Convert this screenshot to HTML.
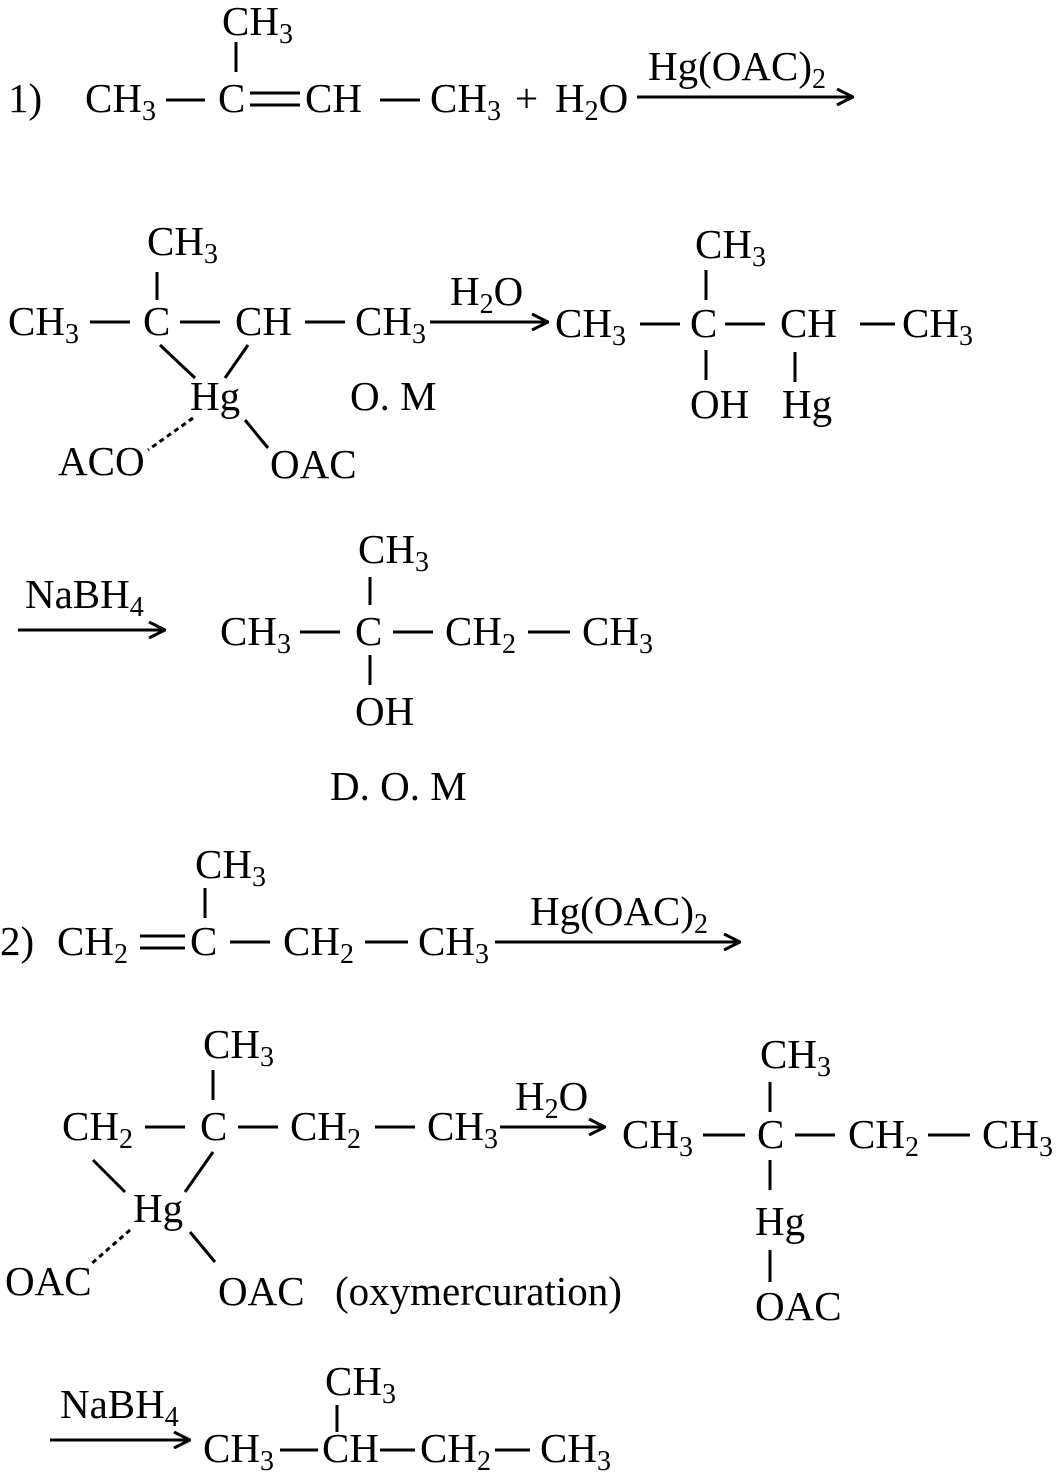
<!DOCTYPE html>
<html><head><meta charset="utf-8"><style>
html,body{margin:0;padding:0;background:#fff;}
svg{display:block;}
text{font-family:"Liberation Serif",serif;font-size:41px;fill:#000;}
.s{font-size:28px;}
line{stroke:#000;stroke-width:3;}
</style></head><body>
<svg width="1056" height="1476" viewBox="0 0 1056 1476" xmlns="http://www.w3.org/2000/svg">
<defs><marker id="a" markerWidth="18" markerHeight="18" refX="17" refY="9" orient="auto" markerUnits="userSpaceOnUse"><path d="M1,1 L17,9 L1,17" fill="none" stroke="#000" stroke-width="3"/></marker></defs>

<!-- Row 1 -->
<text x="8" y="112">1)</text>
<text x="85" y="112">CH<tspan class="s" dy="8">3</tspan></text>
<line x1="166" y1="100" x2="205" y2="100"/>
<text x="218" y="112">C</text>
<line x1="250" y1="93" x2="300" y2="93"/><line x1="250" y1="105" x2="300" y2="105"/>
<text x="305" y="112">CH</text>
<line x1="380" y1="100" x2="420" y2="100"/>
<text x="430" y="112">CH<tspan class="s" dy="8">3</tspan></text>
<text x="515" y="112">+</text>
<text x="555" y="112">H<tspan class="s" dy="8">2</tspan><tspan dy="-8">O</tspan></text>
<line x1="637" y1="97" x2="853" y2="97" marker-end="url(#a)"/>
<text x="648" y="80">Hg(OAC)<tspan class="s" dy="8">2</tspan></text>
<text x="222" y="35">CH<tspan class="s" dy="8">3</tspan></text>
<line x1="236" y1="42" x2="236" y2="72"/>

<!-- Row 2 -->
<text x="8" y="335">CH<tspan class="s" dy="8">3</tspan></text>
<line x1="90" y1="322" x2="130" y2="322"/>
<text x="143" y="335">C</text>
<line x1="180" y1="322" x2="220" y2="322"/>
<text x="235" y="335">CH</text>
<line x1="305" y1="322" x2="345" y2="322"/>
<text x="355" y="335">CH<tspan class="s" dy="8">3</tspan></text>
<line x1="430" y1="322" x2="548" y2="322" marker-end="url(#a)"/>
<text x="450" y="305">H<tspan class="s" dy="8">2</tspan><tspan dy="-8">O</tspan></text>
<text x="147" y="255">CH<tspan class="s" dy="8">3</tspan></text>
<line x1="157" y1="272" x2="157" y2="300"/>
<text x="190" y="410">Hg</text>
<line x1="160" y1="345" x2="195" y2="378"/>
<line x1="248" y1="345" x2="225" y2="378"/>
<line x1="193" y1="418" x2="148" y2="450" stroke-dasharray="5,4"/>
<text x="58" y="475">ACO</text>
<line x1="245" y1="420" x2="268" y2="448"/>
<text x="270" y="478">OAC</text>
<text x="350" y="410">O. M</text>
<text x="555" y="337">CH<tspan class="s" dy="8">3</tspan></text>
<line x1="640" y1="324" x2="680" y2="324"/>
<text x="690" y="337">C</text>
<line x1="725" y1="324" x2="765" y2="324"/>
<text x="780" y="337">CH</text>
<line x1="860" y1="324" x2="895" y2="324"/>
<text x="902" y="337">CH<tspan class="s" dy="8">3</tspan></text>
<text x="695" y="258">CH<tspan class="s" dy="8">3</tspan></text>
<line x1="706" y1="270" x2="706" y2="300"/>
<line x1="706" y1="350" x2="706" y2="380"/>
<text x="690" y="418">OH</text>
<line x1="795" y1="352" x2="795" y2="382"/>
<text x="782" y="418">Hg</text>

<!-- Row 3 -->
<text x="25" y="608">NaBH<tspan class="s" dy="8">4</tspan></text>
<line x1="18" y1="630" x2="165" y2="630" marker-end="url(#a)"/>
<text x="220" y="645">CH<tspan class="s" dy="8">3</tspan></text>
<line x1="300" y1="632" x2="340" y2="632"/>
<text x="355" y="645">C</text>
<line x1="393" y1="632" x2="433" y2="632"/>
<text x="445" y="645">CH<tspan class="s" dy="8">2</tspan></text>
<line x1="528" y1="632" x2="570" y2="632"/>
<text x="582" y="645">CH<tspan class="s" dy="8">3</tspan></text>
<text x="358" y="563">CH<tspan class="s" dy="8">3</tspan></text>
<line x1="370" y1="577" x2="370" y2="605"/>
<line x1="370" y1="655" x2="370" y2="685"/>
<text x="355" y="725">OH</text>
<text x="330" y="800">D. O. M</text>

<!-- Row 4 -->
<text x="0" y="955">2)</text>
<text x="57" y="955">CH<tspan class="s" dy="8">2</tspan></text>
<line x1="140" y1="936" x2="185" y2="936"/><line x1="140" y1="948" x2="185" y2="948"/>
<text x="190" y="955">C</text>
<line x1="230" y1="942" x2="270" y2="942"/>
<text x="283" y="955">CH<tspan class="s" dy="8">2</tspan></text>
<line x1="365" y1="942" x2="408" y2="942"/>
<text x="418" y="955">CH<tspan class="s" dy="8">3</tspan></text>
<line x1="495" y1="942" x2="740" y2="942" marker-end="url(#a)"/>
<text x="530" y="925">Hg(OAC)<tspan class="s" dy="8">2</tspan></text>
<text x="195" y="878">CH<tspan class="s" dy="8">3</tspan></text>
<line x1="205" y1="888" x2="205" y2="918"/>

<!-- Row 5 -->
<text x="62" y="1140">CH<tspan class="s" dy="8">2</tspan></text>
<line x1="145" y1="1127" x2="185" y2="1127"/>
<text x="200" y="1140">C</text>
<line x1="238" y1="1127" x2="278" y2="1127"/>
<text x="290" y="1140">CH<tspan class="s" dy="8">2</tspan></text>
<line x1="375" y1="1127" x2="415" y2="1127"/>
<text x="427" y="1140">CH<tspan class="s" dy="8">3</tspan></text>
<line x1="500" y1="1127" x2="605" y2="1127" marker-end="url(#a)"/>
<text x="515" y="1110">H<tspan class="s" dy="8">2</tspan><tspan dy="-8">O</tspan></text>
<text x="203" y="1058">CH<tspan class="s" dy="8">3</tspan></text>
<line x1="213" y1="1070" x2="213" y2="1100"/>
<text x="133" y="1222">Hg</text>
<line x1="93" y1="1160" x2="125" y2="1192"/>
<line x1="213" y1="1152" x2="185" y2="1192"/>
<line x1="130" y1="1230" x2="90" y2="1265" stroke-dasharray="5,4"/>
<text x="5" y="1295">OAC</text>
<line x1="190" y1="1232" x2="215" y2="1262"/>
<text x="218" y="1305">OAC</text>
<text x="335" y="1305">(oxymercuration)</text>
<text x="622" y="1148">CH<tspan class="s" dy="8">3</tspan></text>
<line x1="703" y1="1135" x2="745" y2="1135"/>
<text x="757" y="1148">C</text>
<line x1="795" y1="1135" x2="835" y2="1135"/>
<text x="848" y="1148">CH<tspan class="s" dy="8">2</tspan></text>
<line x1="928" y1="1135" x2="970" y2="1135"/>
<text x="982" y="1148">CH<tspan class="s" dy="8">3</tspan></text>
<text x="760" y="1068">CH<tspan class="s" dy="8">3</tspan></text>
<line x1="770" y1="1082" x2="770" y2="1112"/>
<line x1="770" y1="1160" x2="770" y2="1190"/>
<text x="755" y="1235">Hg</text>
<line x1="770" y1="1250" x2="770" y2="1282"/>
<text x="755" y="1320">OAC</text>

<!-- Row 6 -->
<text x="60" y="1418">NaBH<tspan class="s" dy="8">4</tspan></text>
<line x1="50" y1="1440" x2="190" y2="1440" marker-end="url(#a)"/>
<text x="203" y="1462">CH<tspan class="s" dy="8">3</tspan></text>
<line x1="280" y1="1450" x2="318" y2="1450"/>
<text x="322" y="1462">CH</text>
<line x1="380" y1="1450" x2="415" y2="1450"/>
<text x="420" y="1462">CH<tspan class="s" dy="8">2</tspan></text>
<line x1="495" y1="1450" x2="530" y2="1450"/>
<text x="540" y="1462">CH<tspan class="s" dy="8">3</tspan></text>
<text x="325" y="1395">CH<tspan class="s" dy="8">3</tspan></text>
<line x1="337" y1="1405" x2="337" y2="1432"/>
</svg>
</body></html>
